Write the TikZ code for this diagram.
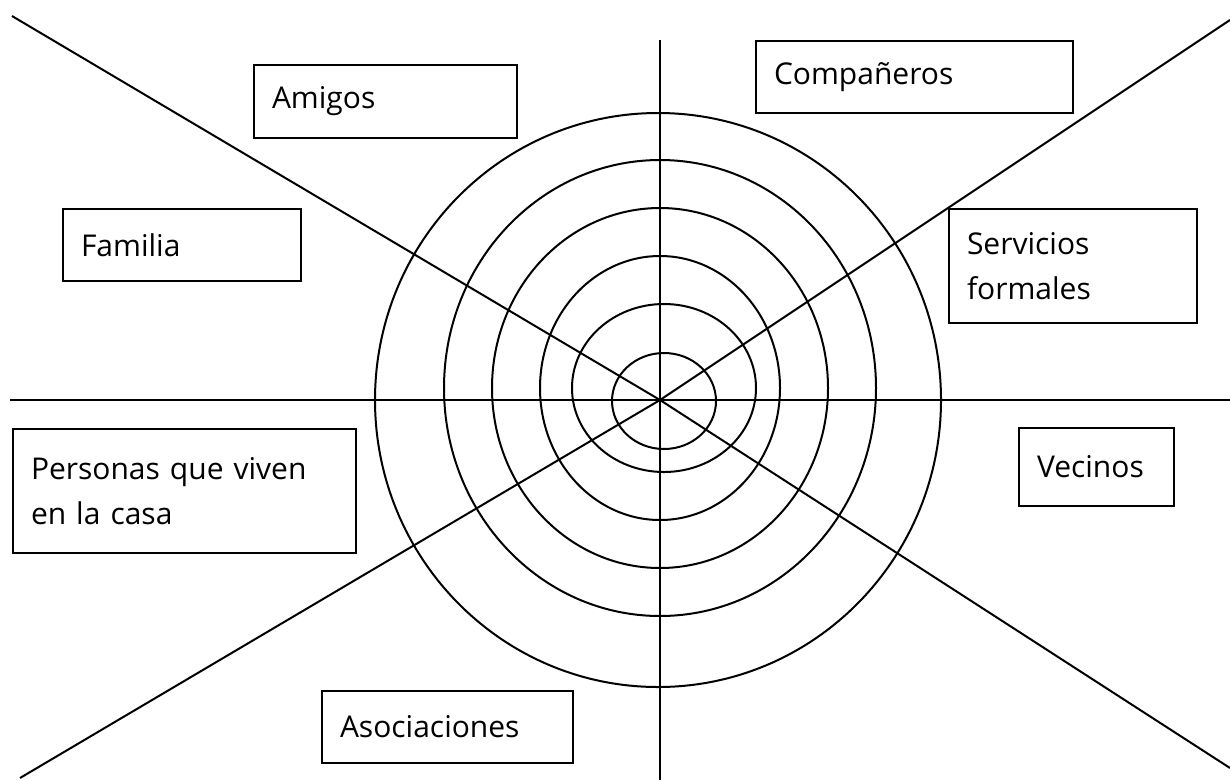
\documentclass[tikz,border=0pt]{standalone}
\usepackage{fontspec}
\setmainfont{Open Sans}
\usepackage{tikz}
\usetikzlibrary{positioning}

\begin{document}
\begin{tikzpicture}[
    x=1pt, y=-1pt,
    ring/.style={draw=black, line width=2pt},
    ray/.style={draw=black, line width=2pt},
    tag/.style={draw=black, fill=white, line width=2pt, anchor=north west,
                align=left, inner xsep=18pt, inner ysep=0pt,
                font=\fontsize{30}{45}\selectfont}
  ]
  \useasboundingbox (0,0) rectangle (1230,780);
  % centre and ends of the rays
  \coordinate (o) at (660,400);
  \coordinate (nw) at (12,16);
  \coordinate (ne) at (1230,20);
  \coordinate (sw) at (20,778);
  \coordinate (se) at (1230,768);
  \coordinate (w) at (10,400);
  \coordinate (e) at (1230,400);
  \coordinate (n) at (660,40);
  \coordinate (s) at (660,780);
  % rings
  \foreach \cx/\cy/\rx/\ry in {664/401/52/48, 664/388/92/84, 660/388/120/132,
                               660/388/168/180, 660/388/216/228, 658/400/283/287}
    \draw[ring] (\cx,\cy) ellipse [x radius=\rx pt, y radius=\ry pt];
  \draw[ray] (w) -- (e);
  \draw[ray] (n) -- (s);
  \foreach \p in {nw, ne, sw, se}
    \draw[ray] (o) -- (\p);
  % labels
  \node[tag, text width=227pt, minimum height=73pt] (amigos) at (253,64) {Amigos};
  \node[tag, text width=281pt, minimum height=72pt] (companeros) at (755,40) {Compañeros};
  \node[tag, text width=202pt, minimum height=72pt] (familia) at (62,208) {Familia};
  \node[tag, text width=212pt, minimum height=114pt] (servicios) at (948,208) {Servicios\\formales};
  \node[tag, text width=307pt, minimum height=124pt] (personas) at (12,428) {Personas que viven\\en la casa};
  \node[tag, text width=119pt, minimum height=78pt] (vecinos) at (1018,427) {Vecinos};
  \node[tag, text width=215pt, minimum height=72pt] (asociaciones) at (321,690) {Asociaciones};
\end{tikzpicture}
\end{document}
